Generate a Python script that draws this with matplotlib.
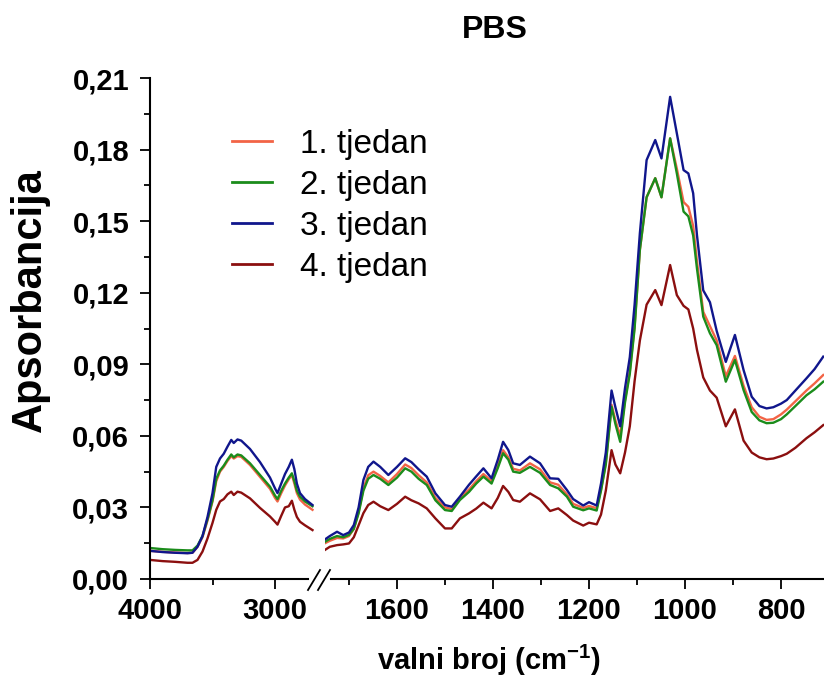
import matplotlib
matplotlib.use('Agg')
import matplotlib.pyplot as plt
from matplotlib.lines import Line2D
from matplotlib.ticker import MultipleLocator, FixedLocator, FuncFormatter

plt.rcParams['font.family'] = ['Liberation Sans', 'DejaVu Sans']
plt.rcParams['mathtext.fontset'] = 'custom'
plt.rcParams['mathtext.rm'] = 'Liberation Sans'
plt.rcParams['mathtext.bf'] = 'Liberation Sans:bold'

labels = ['1. tjedan', '2. tjedan', '3. tjedan', '4. tjedan']
colors = ['#F26446', '#1B8C1B', '#10168C', '#8B0F0F']

# high wavenumber part (left of the axis break)
wn_left = [4000, 3900, 3800, 3700, 3660, 3620, 3580, 3540, 3500, 3470, 3440, 3410,
           3380, 3350, 3330, 3300, 3270, 3200, 3120, 3040, 3000, 2980, 2950, 2920,
           2890, 2865, 2845, 2825, 2800, 2760, 2700]
left_w1 = [0.0118, 0.0114, 0.0111, 0.0109, 0.0110, 0.0135, 0.0175, 0.0245, 0.0325, 0.0410,
           0.0450, 0.0470, 0.0495, 0.0515, 0.0505, 0.0515, 0.0512, 0.0478, 0.0428, 0.0378,
           0.0340, 0.0325, 0.0360, 0.0392, 0.0418, 0.0436, 0.0400, 0.0360, 0.0333, 0.0312, 0.0290]
left_w2 = [0.0130, 0.0125, 0.0122, 0.0120, 0.0120, 0.0140, 0.0180, 0.0250, 0.0330, 0.0420,
           0.0455, 0.0475, 0.0500, 0.0522, 0.0510, 0.0522, 0.0518, 0.0485, 0.0436, 0.0387,
           0.0350, 0.0335, 0.0370, 0.0400, 0.0425, 0.0443, 0.0410, 0.0370, 0.0345, 0.0325, 0.0305]
left_w3 = [0.0118, 0.0113, 0.0110, 0.0108, 0.0110, 0.0135, 0.0180, 0.0260, 0.0360, 0.0470,
           0.0505, 0.0525, 0.0555, 0.0583, 0.0570, 0.0585, 0.0580, 0.0545, 0.0490, 0.0425,
           0.0380, 0.0360, 0.0400, 0.0440, 0.0470, 0.0500, 0.0460, 0.0400, 0.0360, 0.0335, 0.0310]
left_w4 = [0.0080, 0.0075, 0.0072, 0.0068, 0.0068, 0.0080, 0.0115, 0.0170, 0.0235, 0.0290,
           0.0325, 0.0335, 0.0355, 0.0366, 0.0352, 0.0366, 0.0362, 0.0338, 0.0298, 0.0262,
           0.0240, 0.0228, 0.0265, 0.0300, 0.0305, 0.0328, 0.0290, 0.0260, 0.0240, 0.0225, 0.0205]

# fingerprint part (right of the axis break)
wn_right = [1750, 1740, 1725, 1712, 1700, 1690, 1680, 1670, 1660, 1649, 1635, 1618, 1600,
            1583, 1570, 1555, 1538, 1520, 1500, 1486, 1469, 1450, 1435, 1420, 1403, 1390,
            1379, 1368, 1358, 1344, 1323, 1302, 1281, 1264, 1246, 1233, 1212, 1200, 1184,
            1175, 1165, 1153, 1145, 1135, 1125, 1115, 1105, 1094, 1080, 1062, 1049, 1031,
            1017, 1003, 993, 983, 975, 962, 948, 934, 915, 896, 878, 861, 845, 830, 816,
            800, 788, 770, 747, 730, 712]
right_w1 = [0.0150, 0.0160, 0.0172, 0.0170, 0.0180, 0.0210, 0.0280, 0.0380, 0.0435, 0.0450,
            0.0432, 0.0405, 0.0440, 0.0480, 0.0465, 0.0435, 0.0405, 0.0340, 0.0300, 0.0293,
            0.0340, 0.0375, 0.0410, 0.0440, 0.0410, 0.0475, 0.0540, 0.0510, 0.0462, 0.0455,
            0.0485, 0.0460, 0.0405, 0.0395, 0.0355, 0.0315, 0.0298, 0.0306, 0.0297, 0.0375,
            0.0485, 0.0730, 0.0665, 0.0600, 0.0750, 0.0870, 0.1060, 0.1380, 0.1600, 0.1680,
            0.1600, 0.1847, 0.1720, 0.1580, 0.1560, 0.1480, 0.1330, 0.1120, 0.1060, 0.1000,
            0.0850, 0.0935, 0.0810, 0.0720, 0.0680, 0.0667, 0.0670, 0.0690, 0.0710, 0.0745,
            0.0790, 0.0820, 0.0855]
right_w2 = [0.0156, 0.0168, 0.0180, 0.0175, 0.0185, 0.0210, 0.0275, 0.0370, 0.0420, 0.0436,
            0.0420, 0.0394, 0.0425, 0.0464, 0.0450, 0.0420, 0.0394, 0.0330, 0.0289, 0.0285,
            0.0331, 0.0365, 0.0400, 0.0429, 0.0400, 0.0465, 0.0527, 0.0500, 0.0450, 0.0445,
            0.0470, 0.0445, 0.0394, 0.0380, 0.0345, 0.0303, 0.0288, 0.0296, 0.0287, 0.0370,
            0.0480, 0.0722, 0.0650, 0.0575, 0.0740, 0.0860, 0.1050, 0.1380, 0.1600, 0.1680,
            0.1600, 0.1847, 0.1700, 0.1540, 0.1520, 0.1440, 0.1300, 0.1100, 0.1030, 0.0980,
            0.0827, 0.0918, 0.0792, 0.0700, 0.0665, 0.0653, 0.0655, 0.0670, 0.0690, 0.0725,
            0.0770, 0.0795, 0.0827]
right_w3 = [0.0166, 0.0180, 0.0198, 0.0184, 0.0195, 0.0226, 0.0300, 0.0415, 0.0470, 0.0492,
            0.0470, 0.0436, 0.0470, 0.0506, 0.0490, 0.0460, 0.0429, 0.0359, 0.0310, 0.0303,
            0.0345, 0.0395, 0.0430, 0.0464, 0.0422, 0.0500, 0.0575, 0.0540, 0.0485, 0.0478,
            0.0513, 0.0485, 0.0422, 0.0420, 0.0373, 0.0335, 0.0308, 0.0322, 0.0308, 0.0400,
            0.0530, 0.0790, 0.0720, 0.0640, 0.0800, 0.0930, 0.1150, 0.1450, 0.1756, 0.1840,
            0.1763, 0.2021, 0.1868, 0.1714, 0.1700, 0.1617, 0.1440, 0.1210, 0.1160, 0.1040,
            0.0910, 0.1023, 0.0876, 0.0764, 0.0725, 0.0715, 0.0720, 0.0735, 0.0750, 0.0790,
            0.0841, 0.0880, 0.0932]
right_w4 = [0.0122, 0.0135, 0.0142, 0.0145, 0.0149, 0.0175, 0.0225, 0.0276, 0.0310, 0.0324,
            0.0305, 0.0289, 0.0315, 0.0345, 0.0330, 0.0317, 0.0296, 0.0254, 0.0212, 0.0212,
            0.0254, 0.0275, 0.0295, 0.0320, 0.0296, 0.0340, 0.0390, 0.0365, 0.0331, 0.0324,
            0.0359, 0.0334, 0.0285, 0.0296, 0.0268, 0.0245, 0.0224, 0.0236, 0.0229, 0.0270,
            0.0370, 0.0540, 0.0480, 0.0443, 0.0530, 0.0640, 0.0830, 0.1000, 0.1150, 0.1211,
            0.1148, 0.1316, 0.1190, 0.1145, 0.1130, 0.1050, 0.0960, 0.0845, 0.0790, 0.0760,
            0.0640, 0.0711, 0.0580, 0.0530, 0.0510, 0.0502, 0.0505, 0.0515, 0.0525, 0.0550,
            0.0590, 0.0615, 0.0645]

left_series = [left_w1, left_w2, left_w3, left_w4]
right_series = [right_w1, right_w2, right_w3, right_w4]

W, H = 824, 683
fig = plt.figure(figsize=(W / 100, H / 100), dpi=100)


def box(x0, y0, x1, y1):
    return [x0 / W, 1 - y1 / H, (x1 - x0) / W, (y1 - y0) / H]


ax1 = fig.add_axes(box(150, 78, 313.75, 579))
ax2 = fig.add_axes(box(325, 78, 824.2, 579))

for ys, c in zip(left_series, colors):
    ax1.plot(wn_left, ys, color=c, lw=1.7, solid_joinstyle='round')
for ys, c, lab in zip(right_series, colors, labels):
    ax2.plot(wn_right, ys, color=c, lw=1.7, label=lab, solid_joinstyle='round')

ax1.set_xlim(4000, 2690)
ax2.set_xlim(1750, 710)
for ax in (ax1, ax2):
    ax.set_ylim(0, 0.21)
    ax.spines['top'].set_visible(False)
    ax.spines['right'].set_visible(False)
    ax.spines['bottom'].set_linewidth(1.5)
    ax.spines['left'].set_linewidth(1.5)
    ax.tick_params(which='major', direction='out', length=7, width=1.3, labelsize=21)
    ax.tick_params(which='minor', direction='out', length=4, width=1.3)
    ax.tick_params(axis='x', which='major', pad=6)
    ax.tick_params(axis='y', which='major', pad=8)
    ax.patch.set_alpha(0)

ax1.spines['bottom'].set_bounds(4000, 2740)
ax2.spines['bottom'].set_bounds(1738, 710)
ax2.spines['left'].set_visible(False)
ax2.tick_params(axis='y', which='both', left=False, labelleft=False)

ax1.xaxis.set_major_locator(FixedLocator([4000, 3000]))
ax1.xaxis.set_minor_locator(FixedLocator([3500]))
ax2.xaxis.set_major_locator(FixedLocator([1600, 1400, 1200, 1000, 800]))
ax2.xaxis.set_minor_locator(FixedLocator([1700, 1500, 1300, 1100, 900]))
ax1.yaxis.set_major_locator(MultipleLocator(0.03))
ax1.yaxis.set_minor_locator(MultipleLocator(0.015))
ax1.yaxis.set_major_formatter(FuncFormatter(lambda v, p: f'{v:.2f}'.replace('.', ',')))
for ax in (ax1, ax2):
    for t in ax.get_xticklabels() + ax.get_yticklabels():
        t.set_fontweight('bold')

# axis break marks
for x0 in (308, 318):
    fig.add_artist(Line2D([x0 / W, (x0 + 12) / W], [1 - 590 / H, 1 - 570 / H],
                          color='black', lw=1.3))

leg = ax2.legend(loc='upper left', bbox_to_anchor=(232 / W, 1 - 129 / H),
                 bbox_transform=fig.transFigure, frameon=False, fontsize=24,
                 handlelength=1.2, handletextpad=0.84, labelspacing=0.3,
                 borderpad=0, borderaxespad=0)
for h in leg.get_lines():
    h.set_linewidth(2.0)

fig.text(495 / W, 1 - 30 / H, 'PBS', ha='center', va='center', fontsize=23, fontweight='bold')
fig.text(30 / W, 1 - 300 / H, 'Apsorbancija', rotation=90, ha='center', va='center',
         fontsize=30, fontweight='bold')
fig.text(489 / W, 1 - 660 / H, 'valni broj (cm$^{\\mathbf{-1}}$)', ha='center', va='center',
         fontsize=21, fontweight='bold')

fig.savefig('out.png', dpi=100)
